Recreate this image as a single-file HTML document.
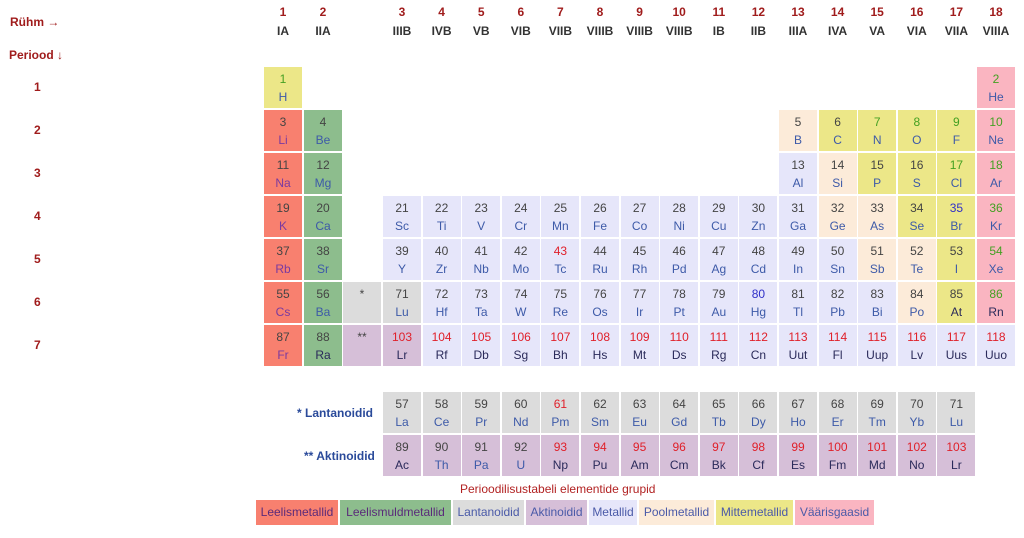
<!DOCTYPE html>
<html><head><meta charset="utf-8">
<style>
body{margin:0;width:1024px;height:538px;background:#fff;font-family:"Liberation Sans",Arial,sans-serif;position:relative;overflow:hidden}
.c{position:absolute;width:38px;height:41px;text-align:center;font-size:12px}
.c .n{position:absolute;left:0;right:0;top:5px;color:#444}
.c .s{position:absolute;left:0;right:0;top:23px;color:#3d5aa8}
.h{position:absolute;font-weight:bold;font-size:12px;text-align:center;width:40px}
.lab{position:absolute;font-weight:bold;font-size:12px;color:#a01c1c}
.leg{position:absolute;top:500px;height:25px;line-height:25px;font-size:12px;text-align:center}
</style></head><body>
<div class="lab" style="left:10px;top:15px">Rühm →</div>
<div class="lab" style="left:9px;top:48px">Periood ↓</div>
<div id="t"></div>
<div class="lab" style="left:297px;top:406px;color:#2a4a9a">* Lantanoidid</div>
<div class="lab" style="left:304px;top:449px;color:#2a4a9a">** Aktinoidid</div>
<div style="position:absolute;left:460px;top:482px;font-size:12px;color:#b22222">Perioodilisustabeli elementide grupid</div>
<div id="lg"></div>
<script>
const groupNums=[1,2,3,4,5,6,7,8,9,10,11,12,13,14,15,16,17,18];
const groupRoman=["IA","IIA","IIIB","IVB","VB","VIB","VIIB","VIIIB","VIIIB","VIIIB","IB","IIB","IIIA","IVA","VA","VIA","VIIA","VIIIA"];
const periods=[1,2,3,4,5,6,7];
// [Z, symbol, group(0=star col), period(8=lanth,9=act), category]
const elements=[
[1,"H",1,1,"nm"],[2,"He",18,1,"ng"],
[3,"Li",1,2,"am"],[4,"Be",2,2,"ae"],[5,"B",13,2,"pm"],[6,"C",14,2,"nm"],[7,"N",15,2,"nm"],[8,"O",16,2,"nm"],[9,"F",17,2,"nm"],[10,"Ne",18,2,"ng"],
[11,"Na",1,3,"am"],[12,"Mg",2,3,"ae"],[13,"Al",13,3,"me"],[14,"Si",14,3,"pm"],[15,"P",15,3,"nm"],[16,"S",16,3,"nm"],[17,"Cl",17,3,"nm"],[18,"Ar",18,3,"ng"],
[19,"K",1,4,"am"],[20,"Ca",2,4,"ae"],[21,"Sc",3,4,"me"],[22,"Ti",4,4,"me"],[23,"V",5,4,"me"],[24,"Cr",6,4,"me"],[25,"Mn",7,4,"me"],[26,"Fe",8,4,"me"],[27,"Co",9,4,"me"],[28,"Ni",10,4,"me"],[29,"Cu",11,4,"me"],[30,"Zn",12,4,"me"],[31,"Ga",13,4,"me"],[32,"Ge",14,4,"pm"],[33,"As",15,4,"pm"],[34,"Se",16,4,"nm"],[35,"Br",17,4,"nm"],[36,"Kr",18,4,"ng"],
[37,"Rb",1,5,"am"],[38,"Sr",2,5,"ae"],[39,"Y",3,5,"me"],[40,"Zr",4,5,"me"],[41,"Nb",5,5,"me"],[42,"Mo",6,5,"me"],[43,"Tc",7,5,"me"],[44,"Ru",8,5,"me"],[45,"Rh",9,5,"me"],[46,"Pd",10,5,"me"],[47,"Ag",11,5,"me"],[48,"Cd",12,5,"me"],[49,"In",13,5,"me"],[50,"Sn",14,5,"me"],[51,"Sb",15,5,"pm"],[52,"Te",16,5,"pm"],[53,"I",17,5,"nm"],[54,"Xe",18,5,"ng"],
[55,"Cs",1,6,"am"],[56,"Ba",2,6,"ae"],["*","",0,6,"la"],[71,"Lu",3,6,"la"],[72,"Hf",4,6,"me"],[73,"Ta",5,6,"me"],[74,"W",6,6,"me"],[75,"Re",7,6,"me"],[76,"Os",8,6,"me"],[77,"Ir",9,6,"me"],[78,"Pt",10,6,"me"],[79,"Au",11,6,"me"],[80,"Hg",12,6,"me"],[81,"Tl",13,6,"me"],[82,"Pb",14,6,"me"],[83,"Bi",15,6,"me"],[84,"Po",16,6,"pm"],[85,"At",17,6,"nm"],[86,"Rn",18,6,"ng"],
[87,"Fr",1,7,"am"],[88,"Ra",2,7,"ae"],["**","",0,7,"ac"],[103,"Lr",3,7,"ac"],[104,"Rf",4,7,"me"],[105,"Db",5,7,"me"],[106,"Sg",6,7,"me"],[107,"Bh",7,7,"me"],[108,"Hs",8,7,"me"],[109,"Mt",9,7,"me"],[110,"Ds",10,7,"me"],[111,"Rg",11,7,"me"],[112,"Cn",12,7,"me"],[113,"Uut",13,7,"me"],[114,"Fl",14,7,"me"],[115,"Uup",15,7,"me"],[116,"Lv",16,7,"me"],[117,"Uus",17,7,"me"],[118,"Uuo",18,7,"me"],
[57,"La",3,8,"la"],[58,"Ce",4,8,"la"],[59,"Pr",5,8,"la"],[60,"Nd",6,8,"la"],[61,"Pm",7,8,"la"],[62,"Sm",8,8,"la"],[63,"Eu",9,8,"la"],[64,"Gd",10,8,"la"],[65,"Tb",11,8,"la"],[66,"Dy",12,8,"la"],[67,"Ho",13,8,"la"],[68,"Er",14,8,"la"],[69,"Tm",15,8,"la"],[70,"Yb",16,8,"la"],[71,"Lu",17,8,"la"],
[89,"Ac",3,9,"ac"],[90,"Th",4,9,"ac"],[91,"Pa",5,9,"ac"],[92,"U",6,9,"ac"],[93,"Np",7,9,"ac"],[94,"Pu",8,9,"ac"],[95,"Am",9,9,"ac"],[96,"Cm",10,9,"ac"],[97,"Bk",11,9,"ac"],[98,"Cf",12,9,"ac"],[99,"Es",13,9,"ac"],[100,"Fm",14,9,"ac"],[101,"Md",15,9,"ac"],[102,"No",16,9,"ac"],[103,"Lr",17,9,"ac"]
];
const gasZ=[1,2,7,8,9,10,17,18,36,54,86];
const liquidZ=[35,80];
const legendNames=["Leelismetallid","Leelismuldmetallid","Lantanoidid","Aktinoidid","Metallid","Poolmetallid","Mittemetallid","Väärisgaasid"];
const legendCats=["am","ae","la","ac","me","pm","nm","ng"];
const legendWidths=[82,111,71,61,48,75,77,79];
const colors={am:"#f8806f",ae:"#8dbd8d",la:"#dcdcdc",ac:"#d6bfd8",me:"#e6e6fa",pm:"#fcebd9",nm:"#ece788",ng:"#fab5c1"};
function colX(g){return g===0?343:(g<=2?264+(g-1)*40:383+(g-3)*39.6);}
function rowY(p){return p<=7?67+(p-1)*43:(p===8?392:435);}
const t=document.getElementById('t');
groupNums.forEach((g,i)=>{
 const a=document.createElement('div');a.className='h';
 
 
 a.style.left=(colX(g)-1)+'px';a.style.top='5px';a.style.color='#a01c1c';a.textContent=g;t.appendChild(a);
 const b=document.createElement('div');b.className='h';
 
 
 b.style.left=(colX(g)-1)+'px';b.style.top='24px';b.style.color='#333';b.textContent=groupRoman[i];t.appendChild(b);
});
periods.forEach(p=>{
 const a=document.createElement('div');a.className='lab';
 
 
 a.style.left='34px';a.style.top=(rowY(p)+13)+'px';a.textContent=p;t.appendChild(a);
});
elements.forEach(e=>{
 const [z,sym,g,p,cat]=e;
 const c=document.createElement('div');c.className='c';
 
 
 c.style.left=colX(g)+'px';c.style.top=rowY(p)+'px';c.style.background=colors[cat];
 const n=document.createElement('div');n.className='n';n.textContent=z;
 if(typeof z==='number'){
  if(z===43||z===61||z>=93)n.style.color='#e0202a';
  else if(gasZ.includes(z))n.style.color='#44a022';
  else if(liquidZ.includes(z))n.style.color='#3030c8';
 }
 const s=document.createElement('div');s.className='s';s.textContent=sym;
 if(typeof z==='number'&&(z>=85&&z<=89||z>=93||cat==='am'))s.style.color=cat==='am'?'#7a3aa0':'#2a2a5a';
 c.appendChild(n);c.appendChild(s);t.appendChild(c);
});
const lg=document.getElementById('lg');let x=256;
legendNames.forEach((nm,i)=>{
 const d=document.createElement('div');d.className='leg';
 
 
 d.style.left=x+'px';d.style.width=legendWidths[i]+'px';d.style.background=colors[legendCats[i]];
 d.style.color=i<2?'#5a2a7a':'#4a5aa8';d.textContent=nm;lg.appendChild(d);x+=legendWidths[i]+2;
});
</script>
</body></html>
